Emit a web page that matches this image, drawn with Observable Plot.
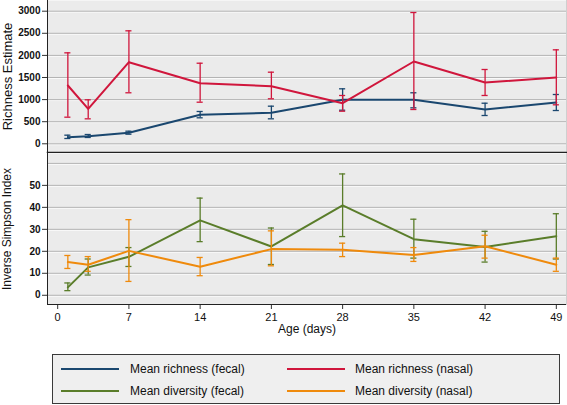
<!DOCTYPE html>
<html>
<head>
<meta charset="utf-8">
<script src="https://cdn.jsdelivr.net/npm/d3@7"></script>
<script src="https://cdn.jsdelivr.net/npm/@observablehq/plot@0.6"></script>
<style>
  body { margin: 0; background: #fff; font-family: "Liberation Sans", Arial, sans-serif; }
  #wrap { position: relative; width: 567px; height: 405px; }
  #wrap svg { display: block; }
  #legend { position: absolute; left: 52px; top: 354px; width: 506px; height: 48px;
            border: 1px solid #3a3a3a; background: #efefef; box-sizing: content-box; }
  .li { position: absolute; font-size: 12px; color: #111; line-height: 14px; }
  .ln { position: absolute; height: 2px; width: 58px; }
</style>
</head>
<body>
<div id="wrap">
  <div id="topPanel"></div>
  <div id="bottomPanel"></div>
  <div id="legend"></div>
</div>
<script>
const days = [1, 3, 7, 14, 21, 28, 35, 42, 49];
const xTicks = [0, 7, 14, 21, 28, 35, 42, 49];

const richFecal   = [149, 172, 249, 656, 701, 995, 995, 776, 934];
const richFecalLo = [120, 143, 217, 588, 565, 760, 814, 640, 753];
const richFecalHi = [195, 210, 285, 731, 851, 1244, 1154, 918, 1115];

const richNasal   = [1319, 792, 1846, 1371, 1303, 918, 1862, 1387, 1500];
const richNasalLo = [602, 565, 1154, 941, 1018, 737, 776, 1093, 882];
const richNasalHi = [2058, 995, 2556, 1823, 1620, 1093, 2970, 1681, 2126];

const divFecal   = [3.6, 12.7, 17.5, 34.1, 22.2, 40.9, 25.5, 22.0, 26.9];
const divFecalLo = [2.1, 9.2, 13.1, 24.4, 14.0, 26.7, 16.9, 15.1, 16.5];
const divFecalHi = [5.6, 16.5, 21.7, 44.2, 30.6, 55.2, 34.6, 29.1, 37.1];

const divNasal   = [15.1, 13.9, 20.2, 13.0, 21.0, 20.7, 18.3, 22.3, 13.9];
const divNasalLo = [12.2, 10.9, 6.3, 8.9, 13.4, 17.6, 15.4, 16.9, 10.9];
const divNasalHi = [18.1, 17.6, 34.4, 17.2, 29.3, 23.7, 21.7, 27.3, 16.9];

const richTicks = [0, 500, 1000, 1500, 2000, 2500, 3000];
const divTicks = [0, 10, 20, 30, 40, 50];
const divGrid = [0, 10, 20, 30, 40, 50, 60];

const seriesNames = ["Mean richness (fecal)", "Mean richness (nasal)", "Mean diversity (fecal)", "Mean diversity (nasal)"];
const colors = ["#1a476f", "#d0163c", "#5a7d2a", "#ef8a0c"];

const rows = (m, lo, hi) => days.map((d, i) => ({day: d, m: m[i], lo: lo[i], hi: hi[i]}));
const rf = rows(richFecal, richFecalLo, richFecalHi);
const rn = rows(richNasal, richNasalLo, richNasalHi);
const df = rows(divFecal, divFecalLo, divFecalHi);
const dn = rows(divNasal, divNasalLo, divNasalHi);

const CAP = 0.3;
function seriesMarks(data, color) {
  return [
    Plot.ruleX(data, {x: "day", y1: "lo", y2: "hi", stroke: color, strokeWidth: 1.3}),
    Plot.ruleY(data, {y: "hi", x1: d => d.day - CAP, x2: d => d.day + CAP, stroke: color, strokeWidth: 1.3}),
    Plot.ruleY(data, {y: "lo", x1: d => d.day - CAP, x2: d => d.day + CAP, stroke: color, strokeWidth: 1.3}),
    Plot.line(data, {x: "day", y: "m", stroke: color, strokeWidth: 2})
  ];
}

const fmt = d3.format("d");
const common = {
  width: 567,
  marginLeft: 47,
  marginRight: 1,
  style: {fontFamily: "Liberation Sans, Arial, sans-serif", fontSize: "10px", color: "#111", background: "#fff"}
};

const topChart = Plot.plot({
  ...common,
  height: 153,
  marginTop: 0,
  marginBottom: 1,
  x: {domain: [-1, 50], axis: null},
  y: {domain: [-197, 3242]},
  marks: [
    Plot.frame({fill: "#ebebeb", stroke: "none"}),
    Plot.gridY(richTicks, {stroke: "#fafafa", strokeOpacity: 1, dy: 1}),
    Plot.gridY(richTicks, {stroke: "#b4b4b4", strokeOpacity: 1}),
    Plot.axisY(richTicks, {tickSize: 5, tickPadding: 2, tickFormat: fmt, label: null, fontSize: 10, fontWeight: "bold", stroke: "#333"}),
    Plot.frame({anchor: "left", stroke: "#222"}),
    Plot.frame({anchor: "right", stroke: "#cfcfcf"}),
    ...seriesMarks(rf, colors[0]),
    ...seriesMarks(rn, colors[1]),
    Plot.frame({anchor: "bottom", stroke: "#222", strokeWidth: 1.5}),
    Plot.text(["Richness Estimate"], {frameAnchor: "left", textAnchor: "middle", rotate: -90, dx: -40, fontSize: 13, fill: "#111"})
  ]
});

const bottomChart = Plot.plot({
  ...common,
  height: 190,
  marginTop: 0,
  marginBottom: 39,
  x: {domain: [-1, 50]},
  y: {domain: [-4.2, 64.5]},
  marks: [
    Plot.frame({fill: "#ebebeb", stroke: "none"}),
    Plot.gridY(divGrid, {stroke: "#fafafa", strokeOpacity: 1, dy: 1}),
    Plot.gridY(divGrid, {stroke: "#b4b4b4", strokeOpacity: 1}),
    Plot.axisY(divTicks, {tickSize: 5, tickPadding: 2, tickFormat: fmt, label: null, fontSize: 10, fontWeight: "bold", stroke: "#333"}),
    Plot.axisX(xTicks, {tickSize: 5, tickPadding: 4, tickFormat: fmt, label: null, fontSize: 11, stroke: "#333"}),
    Plot.frame({anchor: "left", stroke: "#222"}),
    Plot.frame({anchor: "bottom", stroke: "#222"}),
    Plot.frame({anchor: "right", stroke: "#cfcfcf"}),
    ...seriesMarks(df, colors[2]),
    ...seriesMarks(dn, colors[3]),
    Plot.text(["Inverse Simpson Index"], {frameAnchor: "left", textAnchor: "middle", rotate: -90, dx: -40, fontSize: 12, fill: "#111"}),
    Plot.text(["Age (days)"], {frameAnchor: "bottom", dy: 28, fontSize: 12, fill: "#111"})
  ]
});

document.getElementById("topPanel").appendChild(topChart);
document.getElementById("bottomPanel").appendChild(bottomChart);

// legend
const legend = document.getElementById("legend");
const pos = [[0, 0], [1, 0], [0, 1], [1, 1]];
seriesNames.forEach((name, i) => {
  const [c, r] = pos[i];
  const lx = c === 0 ? 8 : 234;
  const tx = c === 0 ? 77 : 302;
  const y = r === 0 ? 14 : 36;
  const ln = document.createElement("div");
  ln.className = "ln";
  ln.style.left = lx + "px";
  ln.style.top = (y - 1) + "px";
  ln.style.background = colors[i];
  legend.appendChild(ln);
  const t = document.createElement("div");
  t.className = "li";
  t.style.left = tx + "px";
  t.style.top = (y - 7) + "px";
  t.textContent = name;
  legend.appendChild(t);
});
</script>
</body>
</html>
